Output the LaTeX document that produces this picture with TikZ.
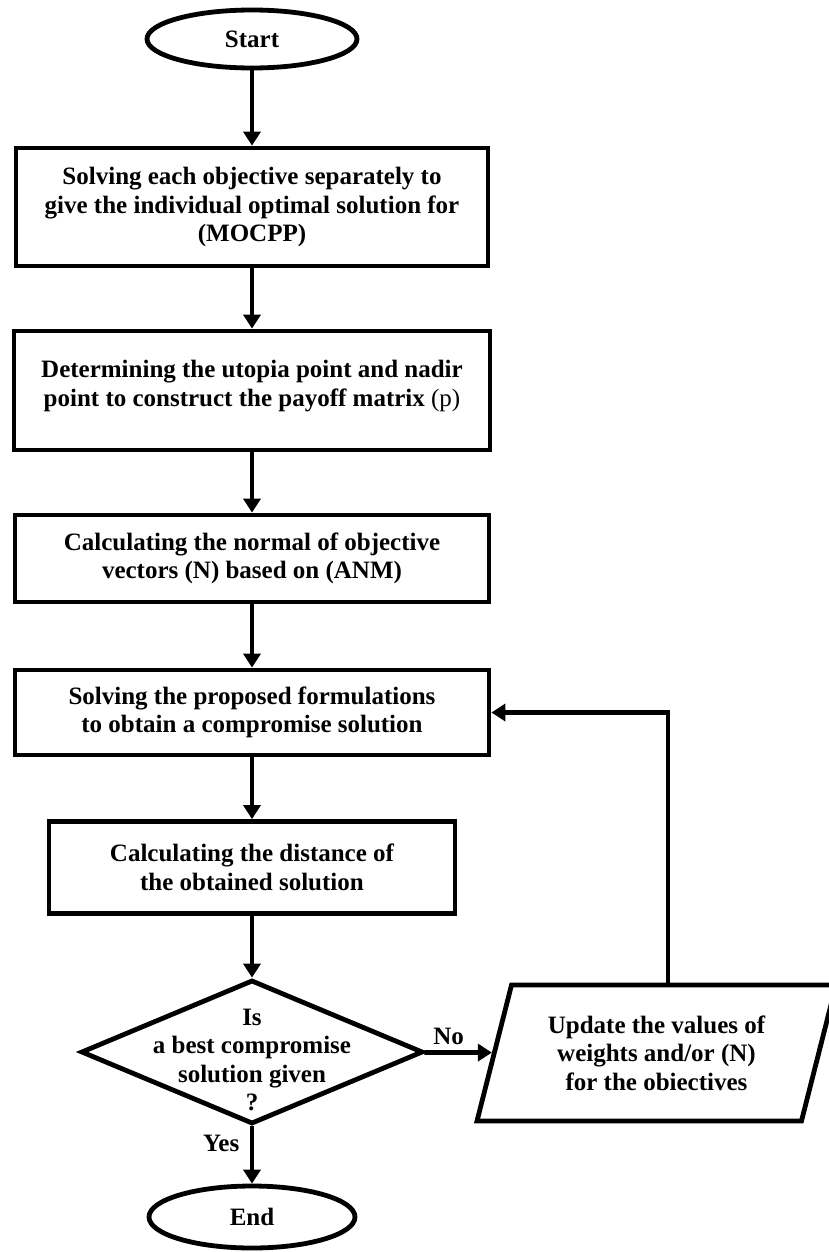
\documentclass[tikz,border=0pt]{standalone}
\usepackage{fontspec}
\setmainfont{Liberation Serif}
\usetikzlibrary{shapes.geometric,arrows.meta}

\begin{document}
\begin{tikzpicture}[x=1pt,y=-1pt,
    font=\fontsize{25}{28.5}\selectfont\bfseries,
    box/.style={draw, line width=4.8pt, rectangle, inner sep=0pt, align=center},
    term/.style={draw, line width=4.8pt, ellipse, inner sep=0pt},
    arr/.style={line width=4.8pt, -{Triangle[length=14pt,width=17pt]}},
    ]
    \useasboundingbox (0,0) rectangle (829,1252);

    % draw start and end
    \node[term, minimum width=210, minimum height=58] (start) at (252,39) {Start};
    \node[term, minimum width=206, minimum height=62] (end) at (252,1217) {End};

    % draw boxes
    \node[box, minimum width=472, minimum height=118] (solve) at (252,207) {Solving each objective separately to\\ give the individual optimal solution for\\ (MOCPP)};
    \node[box, minimum width=476, minimum height=119, text depth=14pt] (utopia) at (252,390.5) {Determining the utopia point and nadir\\ point to construct the payoff matrix {\mdseries(p)}};
    \node[box, minimum width=474, minimum height=87] (normal) at (252,558.5) {Calculating the normal of objective\\ vectors (N) based on (ANM)};
    \node[box, minimum width=474, minimum height=85] (formul) at (252,712.5) {Solving the proposed formulations\\ to obtain a compromise solution};
    \node[box, minimum width=406, minimum height=92] (dist) at (252,867.5) {Calculating the distance of\\ the obtained solution};

    % draw decision and update
    \node[draw, line width=4.8pt, diamond, inner sep=0pt, minimum width=342, minimum height=144] (dec) at (252,1052) {};
    \node[align=center] (dectext) at (252,1060) {Is\\ a best compromise\\ solution given\\ ?};
    \node[draw, line width=4.8pt, trapezium, trapezium left angle=75, trapezium right angle=105,
        trapezium stretches body, inner xsep=0pt, inner ysep=27pt, align=center, minimum width=359, minimum height=136] (upd) at (656.5,1053)
        {Update the values of\\ weights and/or (N)\\ for the obiectives};

    % draw arrows
    \draw[arr] (start) -- (solve);
    \draw[arr] (solve) -- (utopia);
    \draw[arr] (utopia) -- (normal);
    \draw[arr] (normal) -- (formul);
    \draw[arr] (formul) -- (dist);
    \draw[arr] (dist) -- (dec);
    \draw[arr] (dec) -- node[above=2pt, pos=0.36] (no) {No} (upd);
    \draw[arr] (dec) -- node[left=7pt, pos=0.3] (yes) {Yes} (end);
    \draw[arr] ([xshift=11.5pt]upd.north) |- (formul);
\end{tikzpicture}
\end{document}
